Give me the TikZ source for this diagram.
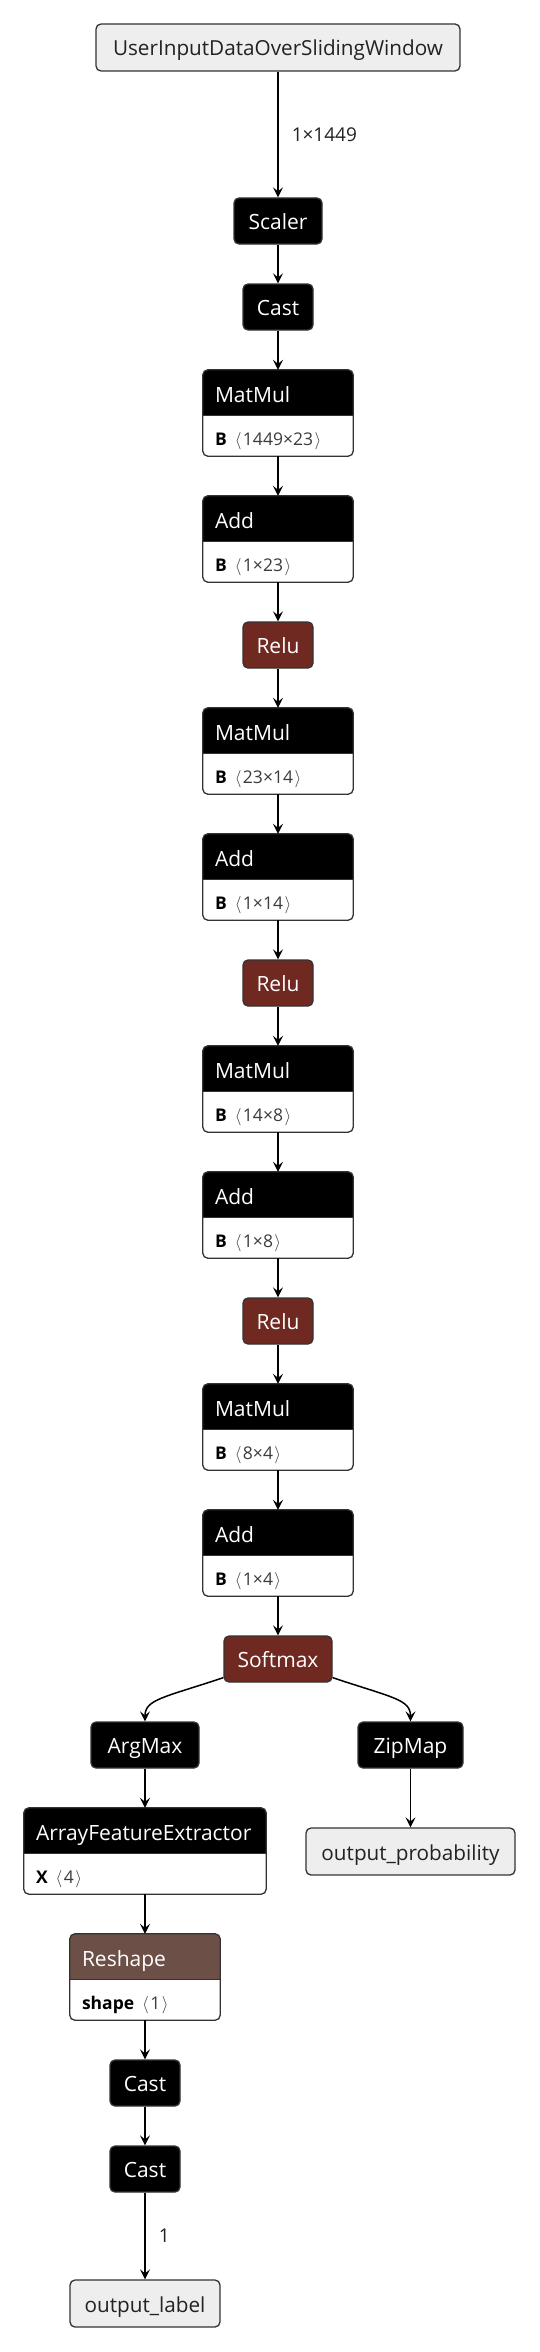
\documentclass[tikz,border=0pt]{standalone}
\usepackage{fontspec}
\setmainfont{Open Sans}
\usetikzlibrary{arrows.meta}
\definecolor{bordercol}{RGB}{51,51,51}
\definecolor{actcol}{RGB}{112,41,33}
\definecolor{shapecol}{RGB}{108,79,71}
\definecolor{iofill}{RGB}{238,238,238}
\definecolor{attrgray}{RGB}{60,60,60}
\definecolor{iotextcol}{RGB}{34,34,34}

\tikzset{
  border/.style={draw=bordercol, line width=1.3pt},
  flow/.style={draw=black, line width=1.5pt, -{Stealth[length=10pt,width=10pt,inset=4pt]}},
  titletext/.style={inner sep=0, text=white, font=\fontsize{21}{25}\selectfont},
  iotext/.style={inner sep=0, text=iotextcol, font=\fontsize{20.7}{25}\selectfont},
  attrtext/.style={inner sep=0, text=black, font=\fontsize{17.5}{21}\selectfont},
  edgelabel/.style={inner sep=0, text=iotextcol, font=\fontsize{19}{23}\selectfont, anchor=west, xshift=13pt},
}

% single operator node: name, cx, ytop, width, fill, text
\newcommand{\unitnode}[6]{%
  \node[border, fill=#5, rounded corners=5pt, inner sep=0, minimum width=#4pt, minimum height=46pt] (#1) at (#2,#3+23) {};
  \node[titletext, anchor=base] at ([yshift=-8.5pt]#1.center) {#6};
}
% input / output node: name, cx, ytop, width, text
\newcommand{\ionode}[5]{%
  \node[border, fill=iofill, rounded corners=5pt, inner sep=0, minimum width=#4pt, minimum height=47pt] (#1) at (#2,#3+23.5) {};
  \node[iotext, anchor=base] at ([yshift=-8.5pt]#1.center) {#5};
}
% operator node with one attribute row: name, cx, ytop, width, header colour, title, attribute
\newcommand{\dualnode}[7]{%
  \node[inner sep=0, minimum width=#4pt, minimum height=86pt] (#1) at (#2,#3+43) {};
  \begin{scope}
    \clip[rounded corners=5pt] (#1.north west) rectangle (#1.south east);
    \fill[#5] (#1.north west) rectangle ([yshift=-46pt]#1.north east);
    \fill[white] ([yshift=-46pt]#1.north west) rectangle (#1.south east);
  \end{scope}
  \draw[border] ([yshift=-46pt]#1.north west) -- ([yshift=-46pt]#1.north east);
  \draw[border, rounded corners=5pt] (#1.north west) rectangle (#1.south east);
  \node[titletext, anchor=base west] at ([xshift=12pt,yshift=-32.5pt]#1.north west) {#6};
  \node[attrtext, anchor=base west] at ([xshift=12pt,yshift=11pt]#1.south west) {#7};
}
\newcommand{\attr}[2]{\textbf{#1}\hspace{8pt}{\color{attrgray}$\langle$\hspace{1.5pt}#2\hspace{1.5pt}$\rangle$}}

\begin{document}
\begin{tikzpicture}[x=1pt, y=-1pt]
\useasboundingbox[fill=white] (0,0) rectangle (540,2352);

\ionode{inp}{278}{24}{364}{UserInputDataOverSlidingWindow}
\unitnode{scaler}{278}{198}{88}{black}{Scaler}
\unitnode{castA}{278}{284}{70}{black}{Cast}
\dualnode{mmA}{278}{370}{150}{black}{MatMul}{\attr{B}{1449×23}}
\dualnode{addA}{278}{496}{150}{black}{Add}{\attr{B}{1×23}}
\unitnode{reluA}{278}{622}{70}{actcol}{Relu}
\dualnode{mmB}{278}{708}{150}{black}{MatMul}{\attr{B}{23×14}}
\dualnode{addB}{278}{834}{150}{black}{Add}{\attr{B}{1×14}}
\unitnode{reluB}{278}{960}{70}{actcol}{Relu}
\dualnode{mmC}{278}{1046}{150}{black}{MatMul}{\attr{B}{14×8}}
\dualnode{addC}{278}{1172}{150}{black}{Add}{\attr{B}{1×8}}
\unitnode{reluC}{278}{1298}{70}{actcol}{Relu}
\dualnode{mmD}{278}{1384}{150}{black}{MatMul}{\attr{B}{8×4}}
\dualnode{addD}{278}{1510}{150}{black}{Add}{\attr{B}{1×4}}
\unitnode{sm}{278}{1636}{108}{actcol}{Softmax}
\unitnode{argmax}{145}{1722}{108}{black}{ArgMax}
\unitnode{zip}{410.5}{1722}{105}{black}{ZipMap}
\dualnode{afe}{145}{1808}{242}{black}{ArrayFeatureExtractor}{\attr{X}{4}}
\ionode{oprob}{410.5}{1828}{209}{output\_probability}
\dualnode{resh}{145}{1934}{150}{shapecol}{Reshape}{\attr{shape}{1}}
\unitnode{castB}{145}{2060}{70}{black}{Cast}
\unitnode{castC}{145}{2146}{70}{black}{Cast}
\ionode{olabel}{145}{2280}{150}{output\_label}

\draw[flow] (inp) -- node[edgelabel] {1×1449} (scaler);
\draw[flow] (scaler) -- (castA);
\draw[flow] (castA) -- (mmA);
\draw[flow] (mmA) -- (addA);
\draw[flow] (addA) -- (reluA);
\draw[flow] (reluA) -- (mmB);
\draw[flow] (mmB) -- (addB);
\draw[flow] (addB) -- (reluB);
\draw[flow] (reluB) -- (mmC);
\draw[flow] (mmC) -- (addC);
\draw[flow] (addC) -- (reluC);
\draw[flow] (reluC) -- (mmD);
\draw[flow] (mmD) -- (addD);
\draw[flow] (addD) -- (sm);
\draw[flow] ([yshift=5pt]sm.south west) .. controls +(-60,20) and +(0,-22) .. (argmax.north);
\draw[flow] ([yshift=5pt]sm.south east) .. controls +(60,20) and +(0,-22) .. (zip.north);
\draw[flow] (argmax) -- (afe);
\draw[flow] (zip) -- (oprob);
\draw[flow] (afe) -- (resh);
\draw[flow] (resh) -- (castB);
\draw[flow] (castB) -- (castC);
\draw[flow] (castC) -- node[edgelabel] {1} (olabel);
\end{tikzpicture}
\end{document}
